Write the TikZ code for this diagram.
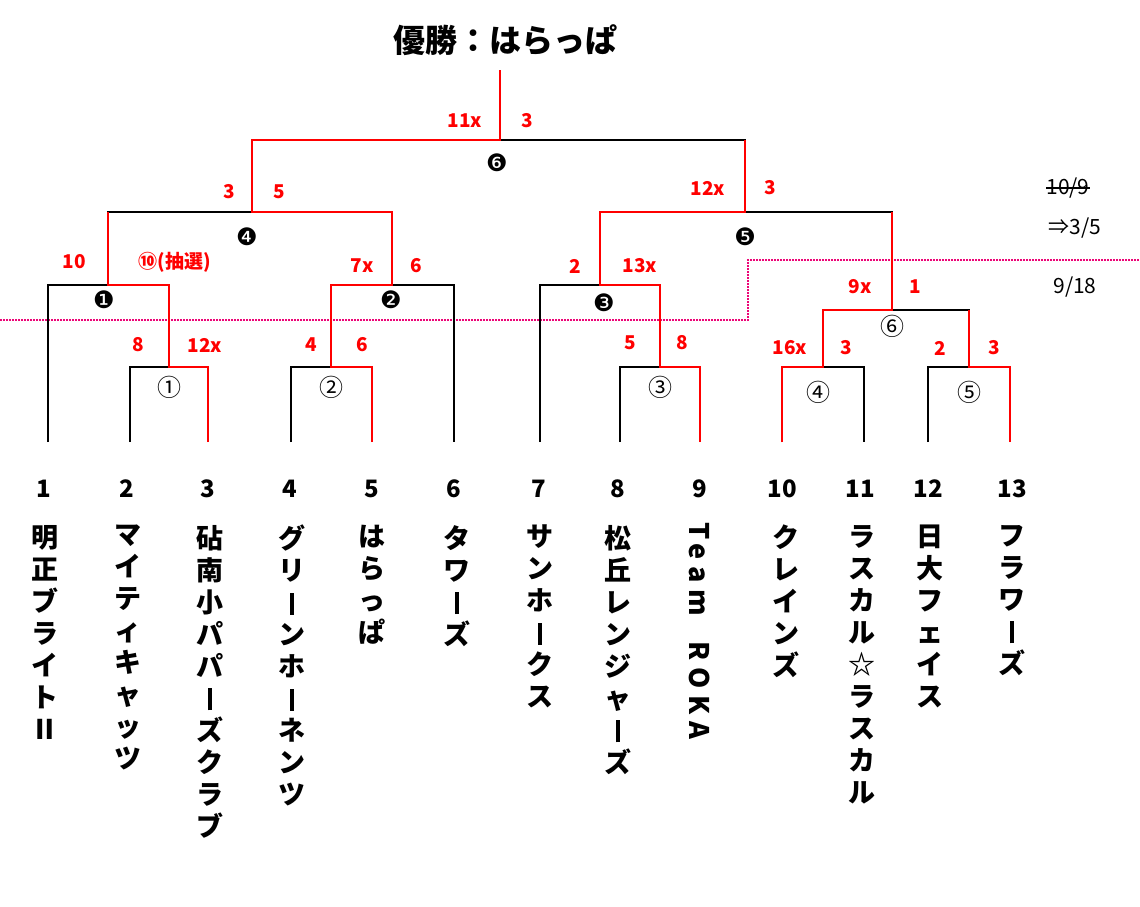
\documentclass[tikz,border=0pt]{standalone}
\usepackage{fontspec}
\setmainfont{Noto Sans CJK JP}
\newfontfamily\dejavu{DejaVu Sans}
\usetikzlibrary{calc}
\tikzstyle{lose}=[draw=black, line width=2.8pt]
\tikzstyle{win}=[draw=red, line width=2.8pt]
\tikzstyle{score}=[text=red, font=\fontsize{19}{20}\selectfont\bfseries, inner sep=0pt]
\tikzstyle{gamemark}=[font=\fontsize{24}{25}\selectfont, inner sep=0pt]
\tikzstyle{num}=[font=\fontsize{24}{26}\selectfont\bfseries, inner sep=0pt]
\tikzstyle{team}=[anchor=north, align=center, inner sep=0pt, font=\fontsize{27}{32}\selectfont\bfseries]
\def\vcharsi#1{\ifx\relax#1\else #1\\\expandafter\vcharsi\fi}
\newcommand\vchars[1]{\vcharsi#1\relax}
\newcommand\vb{\rule[-2pt]{3.5pt}{22pt}}

\begin{document}
\begin{tikzpicture}[x=1pt,y=-1pt]
            \useasboundingbox (0,0) rectangle (1140,907);

            % team feet
            \foreach \i/\x in {1/48,2/130,3/208,4/291,5/372,6/454,7/540,8/620,9/700,10/782,11/864,12/928,13/1010}
                \coordinate (t\i) at (\x,442);

            % match centres
            \coordinate (m1) at (169,367);
            \coordinate (m2) at (331,367);
            \coordinate (m3) at (660,367);
            \coordinate (m4) at (823,367);
            \coordinate (m5) at (969,367);
            \coordinate (m6) at (892,310);
            \coordinate (k1) at (108,285);
            \coordinate (k2) at (392,285);
            \coordinate (k3) at (600,285);
            \coordinate (k4) at (252,212);
            \coordinate (k5) at (745,212);
            \coordinate (k6) at (500,140);
            \coordinate (champ) at (500,70);

            % pink cut line
            \draw[densely dotted, line width=2pt, draw=magenta!80!red] (0,320) -- (748,320) -- (748,260) -- (1140,260);

            \begin{scope}[every path/.style={lose}]
                \path (t2) |- (m1) -| (t3);
                \path (t4) |- (m2) -| (t5);
                \path (t8) |- (m3) -| (t9);
                \path (t10) |- (m4) -| (t11);
                \path (t12) |- (m5) -| (t13);
                \path (t1) |- (k1) -| (m1);
                \path (m2) |- (k2) -| (t6);
                \path (t7) |- (k3) -| (m3);
                \path (m4) |- (m6) -| (m5);
                \path (k1) |- (k4) -| (k2);
                \path (k3) |- (k5) -| (m6);
                \path (k4) |- (k6) -| (k5);
            \end{scope}

            \begin{scope}[every path/.style={win}]
                \path (t3) |- (m1) |- (k1) -- (k1 |- k4);
                \path (t5) |- (m2) |- (k2) |- (k4) |- (k6) -- (champ);
                \path (t9) |- (m3) |- (k3) |- (k5) -- (k5 |- k6);
                \path (t10) |- (m4) |- (m6) -- (m6 |- k5);
                \path (t13) |- (m5) -- (m5 |- m6);
            \end{scope}

            \node[font=\fontsize{32}{34}\selectfont\bfseries] (title) at (505,40) {優勝：はらっぱ};

            % scores
            \begin{scope}[every node/.style={score}]
                \node (s61) at (465,121) {11x}; \node (s62) at (527,121) {3};
                \node (s41) at (229,192) {3};   \node (s42) at (279,192) {5};
                \node (s51) at (708,188) {12x}; \node (s52) at (770,188) {3};
                \node (s11) at (74,262) {10};   \node (s12) at (175,262) {⑩(抽選)};
                \node (s21) at (362,266) {7x};  \node (s22) at (416,266) {6};
                \node (s31) at (575,266) {2};   \node (s32) at (640,266) {13x};
                \node (sf1) at (860,287) {9x};  \node (sf2) at (915,287) {1};
                \node (sa1) at (138,345) {8};   \node (sa2) at (205,345) {12x};
                \node (sb1) at (311,345) {4};   \node (sb2) at (362,345) {6};
                \node (sc1) at (630,343) {5};   \node (sc2) at (682,343) {8};
                \node (sd1) at (790,348) {16x}; \node (sd2) at (846,348) {3};
                \node (se1) at (940,348) {2};   \node (se2) at (994,348) {3};
            \end{scope}

            % match marks
            \begin{scope}[every node/.style={gamemark}]
                \node (n6) at (497,163) {\dejavu ❻};
                \node (n4) at (247,237) {\dejavu ❹};
                \node (n5) at (745,237) {\dejavu ❺};
                \node (n1) at (104,300) {\dejavu ❶};
                \node (n2) at (391,300) {\dejavu ❷};
                \node (n3) at (604,303) {\dejavu ❸};
                \node (c6) at (892,326) {⑥};
                \node (c1) at (169,387) {①};
                \node (c2) at (331,387) {②};
                \node (c3) at (660,387) {③};
                \node (c4) at (818,392) {④};
                \node (c5) at (969,392) {⑤};
            \end{scope}

            % dates
            \node[font=\fontsize{21}{22}\selectfont, inner sep=0pt] (d1) at (1068,188) {10/9};
            \draw[line width=1.5pt] (d1.west) -- (d1.east);
            \node[font=\fontsize{21}{22}\selectfont, inner sep=0pt] (d2) at (1075,228) {⇒3/5};
            \node[font=\fontsize{21}{22}\selectfont, inner sep=0pt] (d3) at (1075,287) {9/18};

            % team numbers
            \foreach \i/\x in {1/44,2/127,3/208,4/290,5/372,6/454,7/539,8/618,9/700,10/782,11/860,12/928,13/1012}
                \node[num] (p\i) at (\x,489) {\i};

            % team names
            \node[team] (a1) at (45,525) {\vchars{明正ブライトⅡ}};
            \node[team] (a2) at (128,525) {\vchars{マイティキャッツ}};
            \node[team] (a3) at (210,525) {\vchars{砧南小パパ\vb ズクラブ}};
            \node[team] (a4) at (292,525) {\vchars{グリ\vb ンホ\vb ネンツ}};
            \node[team] (a5) at (372,525) {\vchars{はらっぱ}};
            \node[team] (a6) at (457,525) {\vchars{タワ\vb ズ}};
            \node[team] (a7) at (540,525) {\vchars{サンホ\vb クス}};
            \node[team] (a8) at (618,525) {\vchars{松丘レンジャ\vb ズ}};
            \node[team, rotate=-90, anchor=west] (a9) at (700,522) {\addfontfeature{LetterSpace=25}Team\ \ ROKA};
            \node[team] (a10) at (786,525) {\vchars{クレインズ}};
            \node[team] (a11) at (862,525) {\vchars{ラスカル☆ラスカル}};
            \node[team] (a12) at (930,525) {\vchars{日大フェイス}};
            \node[team] (a13) at (1012,525) {\vchars{フラワ\vb ズ}};
        \end{tikzpicture}
\end{document}
